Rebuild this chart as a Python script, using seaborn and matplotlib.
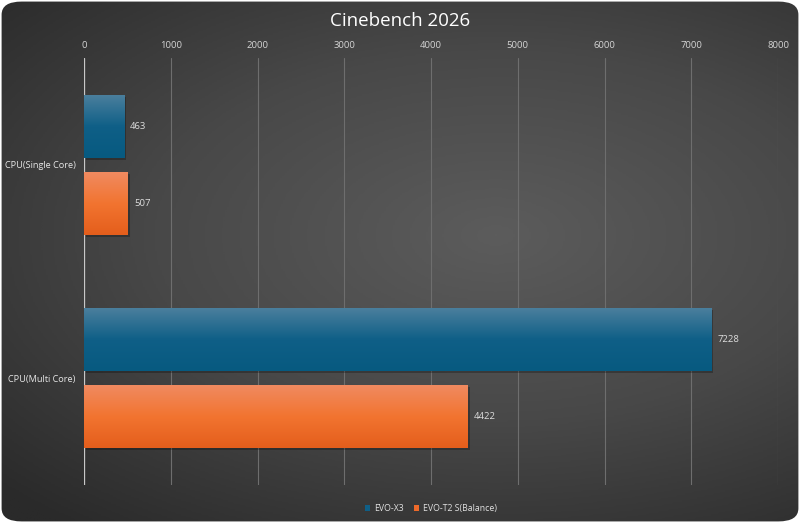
import numpy as np
import pandas as pd
import matplotlib
matplotlib.use("Agg")
import matplotlib.pyplot as plt
import seaborn as sns
from matplotlib.patches import FancyBboxPatch
from matplotlib.colors import LinearSegmentedColormap

categories = ["CPU(Single Core)", "CPU(Multi Core)"]
series = ["EVO-X3", "EVO-T2 S(Balance)"]
evo_x3 = [463, 7228]
evo_t2 = [507, 4422]
xticks = [0, 1000, 2000, 3000, 4000, 5000, 6000, 7000, 8000]

df = pd.DataFrame({
    "category": categories * 2,
    "series": [series[0]] * 2 + [series[1]] * 2,
    "score": evo_x3 + evo_t2,
})

sns.set_theme(style="dark")
plt.rcParams["font.family"] = ["Open Sans", "DejaVu Sans"]

fig = plt.figure(figsize=(8, 5.23), dpi=100)
fig.patch.set_facecolor("white")

# background: radial gradient inside a rounded box
bg = fig.add_axes([0, 0, 1, 1], zorder=-10)
bg.set_axis_off()
yy, xx = np.mgrid[0:1:300j, 0:1:460j]
r = np.sqrt(((xx - 0.62) / 0.9) ** 2 + ((yy - 0.55) / 0.75) ** 2)
bg_cmap = LinearSegmentedColormap.from_list("bg", ["#5c5c5c", "#484848", "#2a2a2a"])
im = bg.imshow(r, cmap=bg_cmap, extent=[0, 1, 0, 1], aspect="auto",
               origin="lower", vmin=0, vmax=0.95)
box = FancyBboxPatch((0.002, 0.003), 0.996, 0.994,
                     boxstyle="round,pad=0,rounding_size=0.025",
                     transform=bg.transAxes, facecolor="none", edgecolor="none")
bg.add_patch(box)
im.set_clip_path(box)
bg.set_xlim(0, 1)
bg.set_ylim(0, 1)

ax = fig.add_axes([0.105, 0.073, 0.8675, 0.816])
ax.set_facecolor("none")

palette = {series[0]: "#0f5f87", series[1]: "#ee6a2a"}
sns.barplot(data=df, y="category", x="score", hue="series", order=categories,
            hue_order=series, palette=palette, orient="h", width=0.72, gap=0.18,
            saturation=1, linewidth=0, edgecolor="none", ax=ax, legend=True)

ax.set_xlim(0, 8000)
ax.set_xticks(xticks)
ax.xaxis.tick_top()
ax.tick_params(axis="x", colors="#d4d4d4", labelsize=6.8, length=0, pad=6)
ax.tick_params(axis="y", colors="#e6e6e6", labelsize=6.6, length=0, pad=6)
ax.set_xlabel("")
ax.set_ylabel("")
ax.grid(axis="x", color="#6e6e6e", linewidth=0.8)
ax.grid(axis="y", visible=False)
ax.set_axisbelow(True)
for s in ax.spines.values():
    s.set_visible(False)
ax.axvline(0, color="#c8c8c8", linewidth=0.9, zorder=1)

# gradient fill + shadow for each bar
grads = {
    "#0f5f87": ["#4a7f9d", "#0f5f87", "#075a80"],
    "#ee6a2a": ["#f08a60", "#f27430", "#e45e1c"],
}
ylim = ax.get_ylim()
for bar in list(ax.patches):
    w = bar.get_width()
    if w <= 0:
        continue
    col = matplotlib.colors.to_hex(bar.get_facecolor())
    key = min(grads, key=lambda k: np.sum(np.abs(np.array(matplotlib.colors.to_rgb(k)) -
                                                    np.array(matplotlib.colors.to_rgb(col)))))
    x0, y0, h = bar.get_x(), bar.get_y(), bar.get_height()
    shadow = plt.Rectangle((x0 + 25, y0 + 0.01), w, h, facecolor="black",
                           alpha=0.25, edgecolor="none", zorder=1.5)
    ax.add_patch(shadow)
    cm = LinearSegmentedColormap.from_list("g", grads[key])
    grad = np.linspace(0, 1, 100).reshape(-1, 1)
    gi = ax.imshow(grad, cmap=cm, aspect="auto", extent=[x0, x0 + w, y0 + h, y0],
                   origin="upper", zorder=2)
    gi.set_clip_path(bar)
    bar.set_zorder(1.8)
    ax.text(x0 + w + 70, y0 + h / 2, f"{int(w)}", va="center", ha="left",
            color="#dedede", fontsize=6.8, zorder=3)
ax.set_ylim(ylim)
ax.set_xlim(0, 8000)

leg = ax.legend(loc="lower center", bbox_to_anchor=(0.5, -0.085), ncol=2,
                frameon=False, fontsize=6.3, handlelength=0.6, handleheight=0.6,
                handletextpad=0.4, columnspacing=1.2)
for t in leg.get_texts():
    t.set_color("#e0e0e0")
for hnd in leg.legend_handles:
    hnd.set_edgecolor("none")

fig.text(0.5, 0.96, "Cinebench 2026", ha="center", va="center",
         color="white", fontsize=13.5)

fig.savefig("out.png", dpi=100)
